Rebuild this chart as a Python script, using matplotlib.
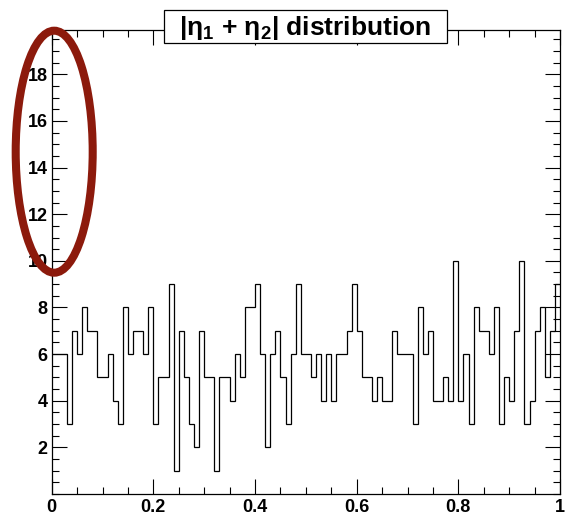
import matplotlib.pyplot as plt
from matplotlib.patches import Ellipse, Rectangle
import numpy as np

# |eta1 + eta2| histogram, 100 bins on [0, 1]
counts = [6, 6, 6, 3, 7, 6, 8, 7, 7, 5, 5, 6, 4, 3, 8, 6, 7, 7, 6, 8, 3, 5, 5, 9,
          1, 7, 5, 3, 2, 7, 5, 5, 1, 5, 5, 4, 6, 5, 8, 8, 9, 6, 2, 6, 7, 5, 3,
          6, 9, 6, 6, 5, 6, 4, 6, 4, 6, 6, 7, 9, 7, 5, 5, 4, 5, 4, 4, 7, 6, 6,
          6, 3, 8, 6, 7, 4, 4, 5, 4, 10, 4, 6, 3, 8, 7, 7, 6, 8, 3, 5, 4, 7, 10, 3, 4, 7, 8, 5, 7, 9]
x_lo, x_hi = 0.0, 1.0
x_ticks = [0, 0.2, 0.4, 0.6, 0.8, 1.0]
x_ticklabels = ['0', '0.2', '0.4', '0.6', '0.8', '1']
y_ticks = [2, 4, 6, 8, 10, 12, 14, 16, 18]
y_ticklabels = ['2', '4', '6', '8', '10', '12', '14', '16', '18']
title = '|η$_1$ + η$_2$| distribution'

plt.rcParams['font.family'] = ['Liberation Sans', 'DejaVu Sans']
plt.rcParams['mathtext.fontset'] = 'custom'
plt.rcParams['mathtext.rm'] = 'Liberation Sans:bold'
plt.rcParams['mathtext.it'] = 'Liberation Sans:bold'
plt.rcParams['mathtext.bf'] = 'Liberation Sans:bold'

W, H = 565, 516
fig = plt.figure(figsize=(W / 100, H / 100), dpi=100)
ax = fig.add_axes([51.7 / W, 22 / H, (560 - 51.7) / W, 464 / H])

edges = np.linspace(x_lo, x_hi, len(counts) + 1)
ax.stairs(counts, edges, baseline=None, color='black', lw=0.9)

ax.set_xlim(x_lo, x_hi)
ax.set_ylim(0, 19.9)
ax.set_xticks(x_ticks)
ax.set_xticklabels(x_ticklabels)
ax.set_xticks(np.arange(0, 1.0001, 0.05), minor=True)
ax.set_yticks(y_ticks)
ax.set_yticklabels(y_ticklabels)
ax.set_yticks(np.arange(0, 19.9, 0.5), minor=True)

ax.tick_params(which='both', direction='in', top=True, right=True, width=0.8, color='black')
ax.tick_params(which='major', length=11)
ax.tick_params(which='minor', length=5.3)
ax.tick_params(axis='x', which='major', pad=3.5)
ax.tick_params(axis='y', which='major', pad=3)
for lab in ax.get_xticklabels() + ax.get_yticklabels():
    lab.set_fontsize(13)
    lab.set_fontweight('bold')
for s in ax.spines.values():
    s.set_linewidth(0.9)

# title box
fig.add_artist(Rectangle((164 / W, 1 - 43 / H), 283 / W, 33 / H, transform=fig.transFigure,
                         facecolor='white', edgecolor='black', lw=0.9, zorder=5))
fig.text(305.5 / W, 1 - 27.5 / H, title, ha='center', va='center', fontsize=19,
         fontweight='bold', zorder=6)

# red ellipse annotation
fig.add_artist(Ellipse((54.2 / W, 1 - 151.7 / H), 77 / W, 242 / H, transform=fig.transFigure,
                       fill=False, edgecolor='#8c1a0c', lw=5.8, zorder=7))

fig.savefig('out.png', dpi=100)
